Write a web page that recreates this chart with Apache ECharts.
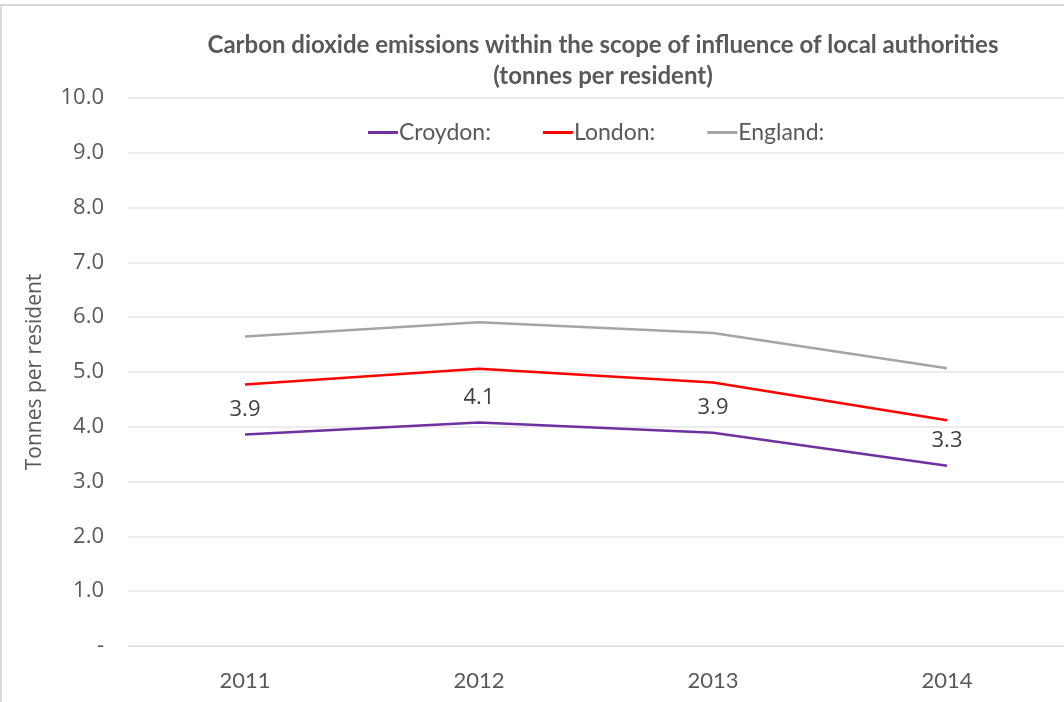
<!DOCTYPE html>
<html>
<head>
<meta charset="utf-8">
<script src="https://cdn.jsdelivr.net/npm/echarts@6/dist/echarts.min.js"></script>
<style>
  html, body { margin: 0; padding: 0; background: #fff; }
  #main { width: 1064px; height: 702px; }
</style>
</head>
<body>
<div id="main"></div>
<script>
// data
var years = ['2011', '2012', '2013', '2014']
var croydon = [3.86, 4.08, 3.89, 3.29]
var london = [4.77, 5.06, 4.81, 4.12]
var england = [5.65, 5.91, 5.71, 5.07]

var tickFont = '"Open Sans", "Noto Sans", sans-serif'
var bodyFont = 'Lato, "Noto Sans", sans-serif'

var myChart = echarts.init(document.getElementById('main'))
myChart.setOption({
  animation: false,
  title: {
    text: 'Carbon dioxide emissions within the scope of influence of local authorities\n(tonnes per resident)',
    left: 598,
    top: 25,
    textAlign: 'center',
    textStyle: {
      color: '#595959',
      fontFamily: bodyFont,
      fontWeight: 'bold',
      fontSize: 24,
      lineHeight: 31
    }
  },
  legend: {
    top: 116,
    left: 363,
    itemWidth: 30,
    itemHeight: 3,
    itemGap: 52,
    icon: 'rect',
    textStyle: {
      color: '#595959',
      fontFamily: bodyFont,
      fontSize: 23,
      padding: [0, 0, 0, -4]
    },
    data: ['Croydon:', 'London:', 'England:']
  },
  grid: {
    left: 128,
    right: 0,
    top: 98,
    bottom: 56
  },
  xAxis: {
    type: 'category',
    data: years,
    boundaryGap: true,
    axisLine: { show: true, lineStyle: { color: '#d9d9d9' } },
    axisTick: { show: false },
    axisLabel: {
      color: '#595959',
      fontFamily: bodyFont,
      fontSize: 22,
      margin: 24
    }
  },
  yAxis: {
    type: 'value',
    min: 0,
    max: 10,
    interval: 1,
    name: 'Tonnes per resident',
    nameLocation: 'middle',
    nameGap: 82,
    nameTextStyle: {
      color: '#595959',
      fontFamily: tickFont,
      fontSize: 21
    },
    axisLine: { show: false },
    axisTick: { show: false },
    axisLabel: {
      color: '#595959',
      fontFamily: tickFont,
      fontSize: 22,
      margin: 24,
      formatter: function (v) {
        return v === 0 ? '-' : v.toFixed(1)
      }
    },
    splitLine: {
      show: true,
      lineStyle: { color: '#e6e6e6', width: 1.5 }
    }
  },
  graphic: [
    { type: 'line', shape: { x1: 1, y1: 5, x2: 1, y2: 702 }, style: { stroke: '#d9d9d9', lineWidth: 2 } },
    { type: 'line', shape: { x1: 0, y1: 5, x2: 1064, y2: 5 }, style: { stroke: '#d9d9d9', lineWidth: 2 } }
  ],
  series: [
    {
      name: 'Croydon:',
      type: 'line',
      data: croydon,
      symbol: 'circle',
      symbolSize: 0.1,
      showSymbol: true,
      color: '#7030A0',
      lineStyle: { width: 2.5 },
      label: {
        show: true,
        position: 'top',
        distance: 14,
        color: '#404040',
        fontFamily: tickFont,
        fontSize: 22,
        formatter: function (p) { return p.value.toFixed(1) }
      },
      z: 3
    },
    {
      name: 'London:',
      type: 'line',
      data: london,
      symbol: 'none',
      color: '#FF0000',
      lineStyle: { width: 2.5 },
      z: 2
    },
    {
      name: 'England:',
      type: 'line',
      data: england,
      symbol: 'none',
      color: '#A5A5A5',
      lineStyle: { width: 2.5 },
      z: 1
    }
  ]
})
</script>
</body>
</html>
